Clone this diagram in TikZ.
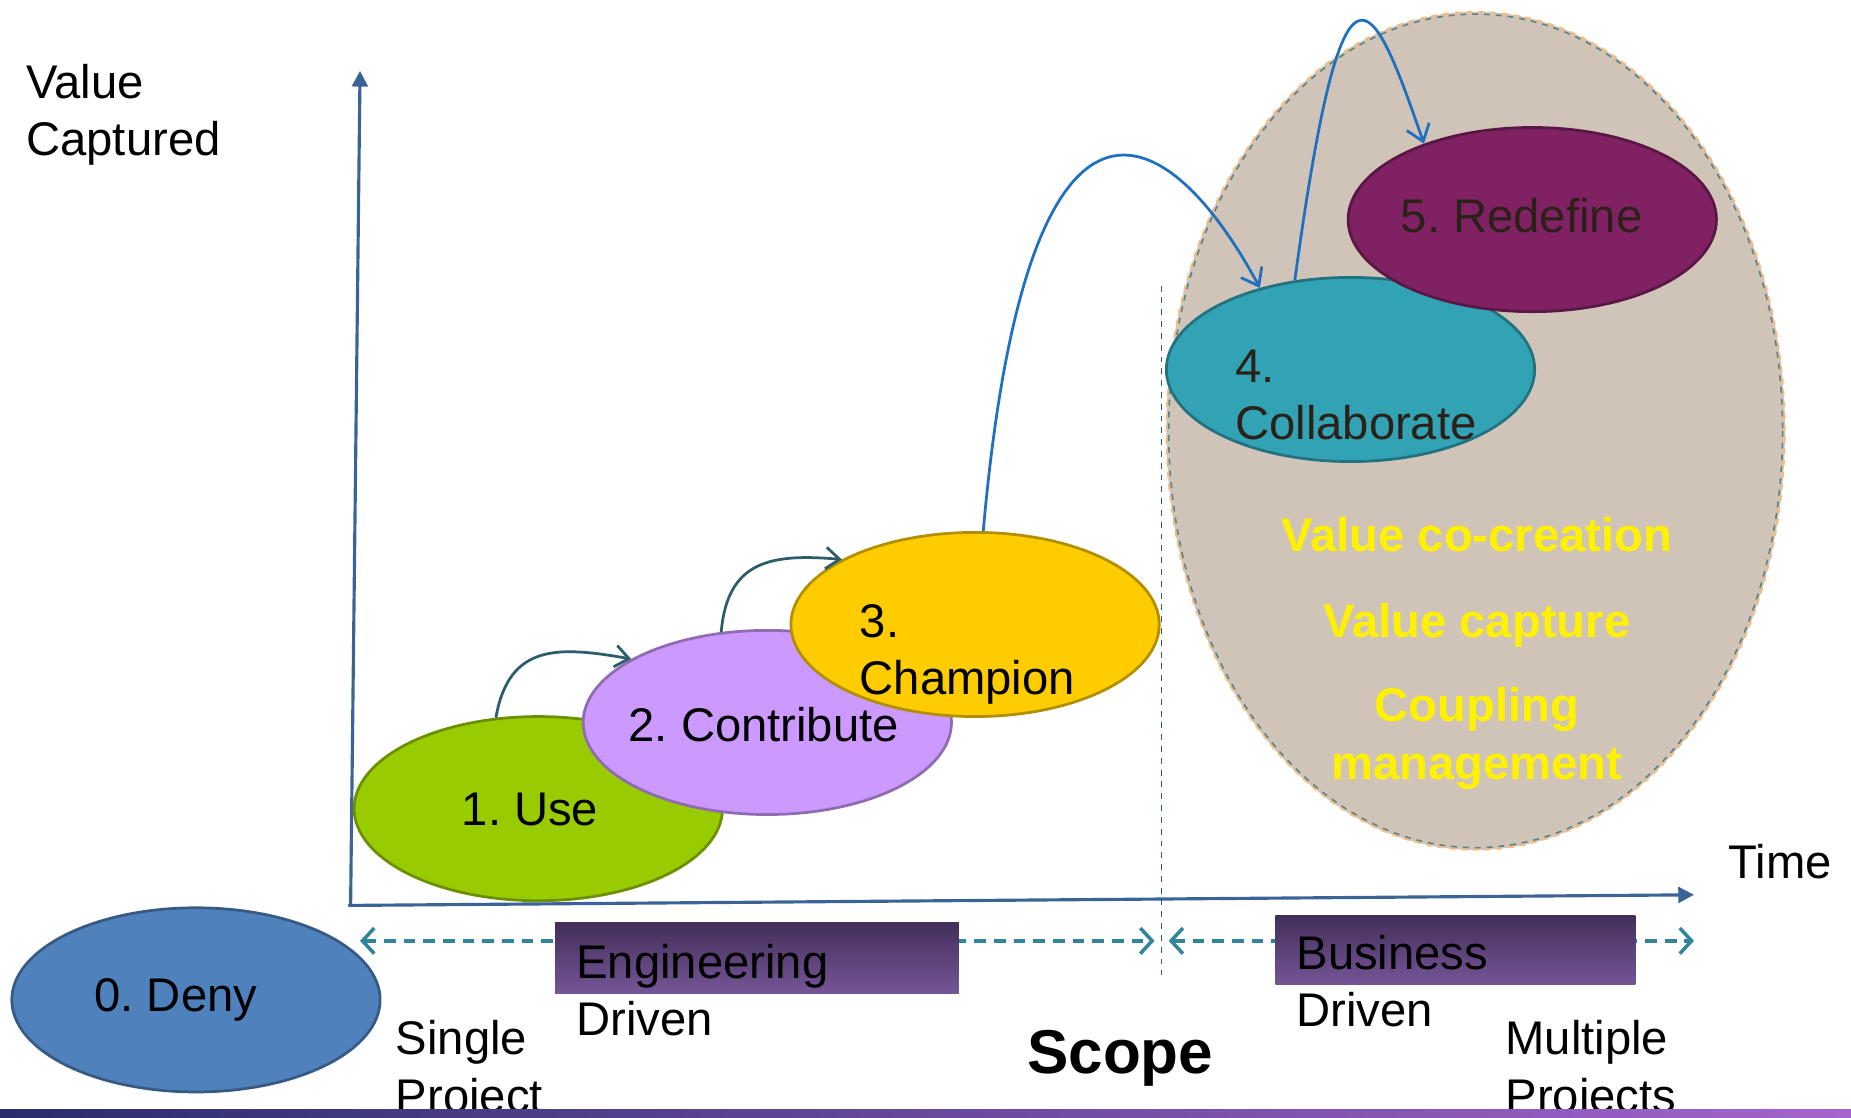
\documentclass[tikz,border=0pt]{standalone}
\usepackage{fontspec}
\setmainfont{Liberation Sans}
\frenchspacing
\usetikzlibrary{shapes.geometric, arrows.meta, positioning, calc}
\definecolor{denycolor}{RGB}{79, 129, 189}
\definecolor{usecolor}{RGB}{153, 204, 0}
\definecolor{contribcolor}{RGB}{204, 153, 255}
\definecolor{champcolor}{RGB}{255, 204, 0}
\definecolor{collabcolor}{RGB}{50, 163, 181}
\definecolor{redefcolor}{RGB}{127, 33, 99}
\definecolor{bizcolor}{RGB}{208, 195, 183}
\definecolor{axiscolor}{RGB}{58, 100, 150}
\definecolor{scopecolor}{RGB}{49, 132, 155}
\definecolor{hopcolor}{RGB}{44, 93, 107}
\definecolor{leapcolor}{RGB}{31, 112, 192}
\definecolor{boxtop}{RGB}{67, 47, 90}
\definecolor{boxbottom}{RGB}{117, 85, 150}
\definecolor{bandleft}{RGB}{42, 45, 106}
\definecolor{bandmid}{RGB}{120, 80, 170}
\definecolor{bandright}{RGB}{165, 100, 205}
\definecolor{darktext}{RGB}{43, 33, 24}

\begin{document}
\begin{tikzpicture}[
    x=0.6pt, y=-0.6pt,
    stage/.style={draw=#1!70!black, line width=1.4pt, fill=#1, ellipse, minimum width=187.2pt, minimum height=93.6pt, inner sep=0pt},
    lbl/.style={inner sep=0pt, font=\fontsize{24}{29}\selectfont, align=left},
    hot/.style={inner sep=0pt, font=\fontsize{24}{29}\selectfont\bfseries, text=yellow, align=center},
    drivebox/.style={top color=boxtop, bottom color=boxbottom, anchor=north west, inner sep=0pt},
    axisline/.style={draw=axiscolor, line width=1.6pt, -{Triangle[length=8pt, width=8pt]}},
    scopearrow/.style={draw=scopecolor, line width=1.8pt, dash pattern=on 6pt off 4pt, {Straight Barb[length=6pt, width=13pt]}-{Straight Barb[length=6pt, width=13pt]}},
    hop/.style={draw=hopcolor, line width=1.4pt, -{Straight Barb[length=7pt, width=11pt]}},
    leap/.style={draw=leapcolor, line width=1.4pt, -{Straight Barb[length=8pt, width=12pt]}}
]
    \useasboundingbox (0,0) rectangle (1568,947);

    % Axes
    \coordinate (origin) at (297,767);
    \coordinate (ytip) at (305,60);
    \coordinate (xtip) at (1435,758);
    \draw[axisline] (origin) -- (ytip);
    \draw[axisline] (295,767) -- (xtip);
    \node[lbl, anchor=west] (ylabel) at (22,97.5) {Value\\Captured};
    \node[lbl] (xlabel) at (1508,730) {Time};

    % Business region
    \node[ellipse, fill=bizcolor, draw=orange!55, dashed, line width=0.8pt, minimum width=314.4pt, minimum height=426pt] (biz) at (1250,365) {};
    \draw[scopecolor!70!brown, dashed, line width=0.8pt] (biz.center) ellipse [x radius=260, y radius=353];
    \node[hot] (cocreate) at (1251,467) [anchor=base] {Value co-creation};
    \node[hot] (capture) at (1251,540) [anchor=base] {Value capture};
    \node[hot] (coupling) at (1251,625.5) {Coupling\\management};

    % Split line
    \coordinate (splittop) at (984,242);
    \coordinate (splitbot) at (984,826);
    \draw[hopcolor, line width=0.8pt, dashed] (splittop) -- (splitbot);

    % Scope arrows
    \coordinate (eng0) at (305,797);
    \coordinate (eng1) at (978,797);
    \coordinate (bus0) at (990,797);
    \coordinate (bus1) at (1435,797);
    \draw[scopearrow] (eng0) -- (eng1);
    \draw[scopearrow] (bus0) -- (bus1);
    \node[drivebox, minimum width=205.2pt, minimum height=36pt] (engbox) at (470,781) {};
    \node[drivebox, minimum width=183pt, minimum height=35.4pt] (busbox) at (1080,775) {};
    \node[lbl, anchor=west] (engtxt) at (488,838.5) {Engineering\\Driven};
    \node[lbl, anchor=west] (bustxt) at (1098,831.5) {Business\\Driven};
    \node[lbl, anchor=west] (single) at (335,907.5) {Single\\Project};
    \node[lbl, anchor=west] (multi) at (1275,907.5) {Multiple\\Projects};
    \node[inner sep=0pt, font=\fontsize{31.5}{36}\selectfont\bfseries, anchor=base] (scope) at (949,909) {Scope};

    % Stages
    \node[stage=denycolor] (deny) at (166,847) {};
    \node[lbl, anchor=base] (denytxt) at (149,857) {0. Deny};
    \node[stage=usecolor] (use) at (456,685) {};
    \node[lbl, anchor=base] (usetxt) at (449,699) {1. Use};
    \node[stage=contribcolor] (contrib) at (650,612) {};
    \node[lbl, anchor=base] (contribtxt) at (647,628) {2. Contribute};
    \node[stage=champcolor] (champ) at (826,529) {};
    \node[lbl, anchor=west] (champtxt) at (728,554.5) {3.\\Champion};
    \node[stage=collabcolor] (collab) at (1144,313) {};
    \node[lbl, anchor=west, text=darktext] (collabtxt) at (1046,334.5) {4.\\Collaborate};
    \node[stage=redefcolor] (redef) at (1298,186) {};
    \node[lbl, anchor=base, text=darktext] (redeftxt) at (1289,197) {5. Redefine};

    % Steps
    \draw[hop] (use.115) to[out=80, in=170, looseness=1.3] (contrib.155);
    \draw[hop] (contrib.117) to[out=85, in=175, looseness=1.3] (champ.154);
    \draw[leap] (champ.85) .. controls +(37,-420) and +(-78,-145) .. (collab.138);
    \draw[leap] (collab.122) .. controls +(41,-300) and +(-45,-130) .. (redef.145);

    % Bottom band
    \shade[left color=bandleft, middle color=bandmid, right color=bandright] (0,940) rectangle (1568,950);
\end{tikzpicture}
\end{document}
